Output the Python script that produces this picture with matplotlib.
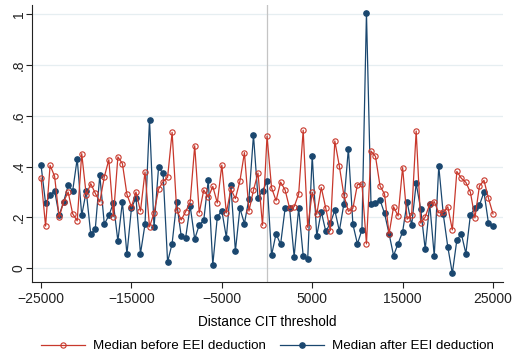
import matplotlib
matplotlib.use("Agg")
import matplotlib.pyplot as plt
import numpy as np

plt.rcParams['font.family'] = ['Liberation Sans', 'DejaVu Sans']

# distance to CIT threshold, steps of 500
dist = np.arange(-25000, 25001, 500)

med_before = [
    0.355, 0.166, 0.405, 0.362, 0.200, 0.262, 0.300, 0.214, 0.187, 0.451,
    0.288, 0.333, 0.295, 0.261, 0.360, 0.427, 0.203, 0.438, 0.412, 0.291,
    0.242, 0.300, 0.225, 0.379, 0.163, 0.218, 0.311, 0.341, 0.358, 0.535,
    0.231, 0.190, 0.223, 0.261, 0.482, 0.218, 0.308, 0.279, 0.322, 0.257,
    0.406, 0.218, 0.311, 0.274, 0.343, 0.455, 0.225, 0.307, 0.375, 0.169,
    0.520, 0.317, 0.266, 0.339, 0.308, 0.236, 0.242, 0.292, 0.543, 0.161,
    0.299, 0.212, 0.318, 0.236, 0.148, 0.501, 0.402, 0.288, 0.224, 0.236,
    0.329, 0.332, 0.096, 0.461, 0.440, 0.324, 0.292, 0.135, 0.242, 0.206,
    0.396, 0.193, 0.210, 0.540, 0.178, 0.202, 0.252, 0.262, 0.218, 0.220,
    0.242, 0.151, 0.381, 0.354, 0.338, 0.299, 0.198, 0.324, 0.346, 0.275,
    0.214,
]

med_after = [
    0.405, 0.256, 0.287, 0.305, 0.208, 0.262, 0.326, 0.305, 0.431, 0.208,
    0.303, 0.134, 0.155, 0.366, 0.173, 0.208, 0.256, 0.107, 0.261, 0.055,
    0.236, 0.278, 0.058, 0.173, 0.585, 0.161, 0.397, 0.374, 0.025, 0.097,
    0.260, 0.128, 0.121, 0.245, 0.115, 0.170, 0.189, 0.347, 0.013, 0.202,
    0.227, 0.121, 0.328, 0.068, 0.236, 0.176, 0.274, 0.524, 0.277, 0.303,
    0.343, 0.051, 0.136, 0.094, 0.236, 0.236, 0.046, 0.236, 0.050, 0.038,
    0.443, 0.127, 0.223, 0.145, 0.177, 0.228, 0.147, 0.253, 0.471, 0.173,
    0.096, 0.151, 1.005, 0.254, 0.258, 0.269, 0.216, 0.136, 0.050, 0.097,
    0.143, 0.261, 0.169, 0.334, 0.233, 0.075, 0.254, 0.048, 0.402, 0.212,
    0.084, -0.020, 0.111, 0.135, 0.058, 0.210, 0.237, 0.248, 0.300, 0.177,
    0.165,
]

red = '#c8382c'
navy = '#1a476f'

fig = plt.figure(figsize=(5.13, 3.54), dpi=100)
ax = fig.add_axes([0.0624, 0.2034, 0.918, 0.7826])

ax.axvline(0, color='#c4c4c4', lw=0.9, zorder=1)
ax.plot(dist, med_before, color=red, lw=0.9, marker='o', ms=3.8,
        mfc='none', mec=red, mew=0.8, label='Median before EEI deduction', zorder=3)
ax.plot(dist, med_after, color=navy, lw=0.9, marker='o', ms=3.8,
        mfc=navy, mec=navy, label='Median after EEI deduction', zorder=2)

ax.set_xlim(-26000, 26100)
ax.set_ylim(-0.054, 1.036)
ax.set_xticks([-25000, -15000, -5000, 5000, 15000, 25000])
ax.set_yticks([0, 0.2, 0.4, 0.6, 0.8, 1.0])
ax.set_yticklabels(['0', '.2', '.4', '.6', '.8', '1'], rotation=90, va='center')
ax.yaxis.grid(True, color='#e6eef1', lw=0.9)
ax.set_axisbelow(True)

for s in ['top', 'right']:
    ax.spines[s].set_visible(False)
for s in ['left', 'bottom']:
    ax.spines[s].set_color('#222222')
    ax.spines[s].set_linewidth(0.8)
ax.tick_params(direction='out', length=4, width=0.8, labelsize=10, colors='#222222')
ax.tick_params(axis='y', pad=0.5)
ax.tick_params(axis='x', pad=3)

ax.set_xlabel('Distance CIT threshold', fontsize=9.8, labelpad=7)

# legend centred under the plot area
ax.legend(loc='center', bbox_to_anchor=(0.5, -0.232), ncol=2, frameon=False,
          fontsize=9.6, handlelength=3.3, columnspacing=1.0, handletextpad=0.6,
          borderpad=0.1)

fig.savefig('out.png', dpi=100, facecolor='white')
